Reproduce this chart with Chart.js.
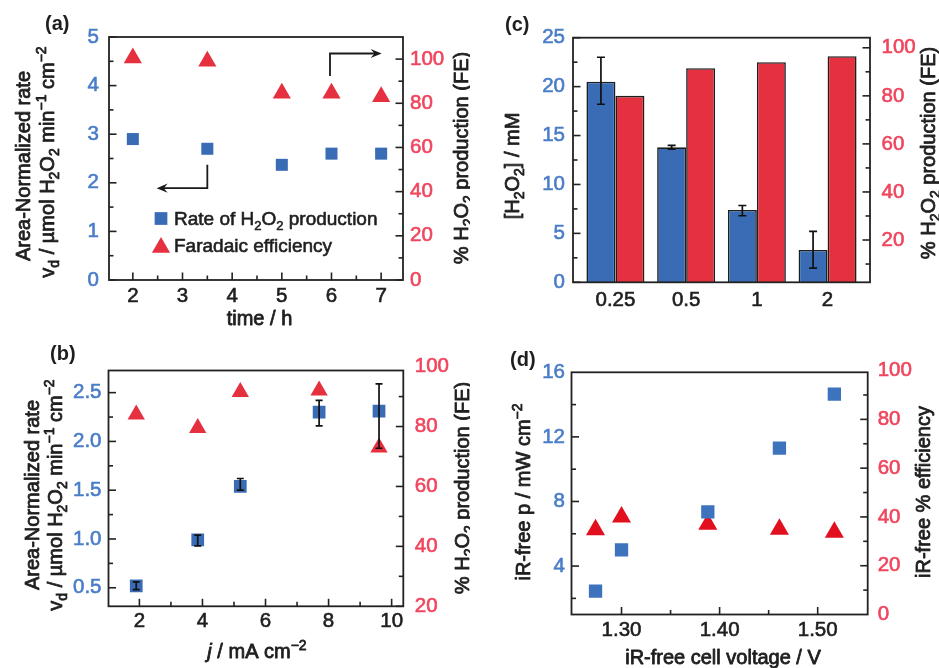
<!DOCTYPE html>
<html><head><meta charset="utf-8">
<script src="https://cdn.jsdelivr.net/npm/chart.js@4.4.0/dist/chart.umd.min.js"></script>
<style>
html,body{margin:0;padding:0;background:#fff;}
#wrap{position:relative;width:939px;height:668px;overflow:hidden;background:#fff;}
canvas{position:absolute;}
</style></head><body>
<div id="wrap">
<canvas id="ca" width="470" height="330" style="left:0;top:0"></canvas>
<canvas id="cc" width="469" height="330" style="left:470px;top:0"></canvas>
<canvas id="cb" width="470" height="338" style="left:0;top:330px"></canvas>
<canvas id="cd" width="469" height="338" style="left:470px;top:330px"></canvas>
</div>
<script>
// ---------- DATA ----------
// (a) rate and FE vs time
const timeH   = [2, 3.5, 5, 6, 7];
const rateA   = [2.9, 2.7, 2.37, 2.6, 2.6];
const feA     = [100.5, 99, 84.5, 84.5, 83];
const timeTicks  = [2, 3, 4, 5, 6, 7];
const rateTicksA = [0, 1, 2, 3, 4, 5];
const feTicksA   = [0, 20, 40, 60, 80, 100];
// (b) rate and FE vs current density
const currentJ  = [1.9, 3.85, 5.2, 7.7, 9.6];
const rateB     = [0.52, 0.99, 1.54, 2.30, 2.31];
const rateBLow  = [0.48, 0.93, 1.50, 2.16, 1.93];
const rateBHigh = [0.56, 1.04, 1.62, 2.42, 2.59];
const feB       = [84, 79.5, 91.5, 92, 73];
const jTicks     = [2, 4, 6, 8, 10];
const rateTicksB = [0.5, 1.0, 1.5, 2.0, 2.5];
const feTicksB   = [20, 40, 60, 80, 100];
// (c) concentration and FE per category
const catsC    = ['0.25', '0.5', '1', '2'];
const h2o2C    = [20.5, 13.8, 7.4, 3.3];
const h2o2Low  = [18.2, 13.6, 6.8, 1.45];
const h2o2High = [23.0, 14.0, 7.85, 5.2];
const feC      = [80, 91.5, 94, 96.5];
const concTicksC = [0, 5, 10, 15, 20, 25];
const feTicksC   = [20, 40, 60, 80, 100];
// (d) power and efficiency vs cell voltage
const voltD  = [1.2735, 1.30, 1.388, 1.461, 1.517];
const powerD = [2.45, 5.0, 7.35, 11.3, 14.65];
const effD   = [34.7, 40, 37, 35, 33.7];
const voltTicks  = [1.30, 1.40, 1.50];
const powerTicks = [4, 8, 12, 16];
const effTicks   = [0, 20, 40, 60, 80, 100];
// legend / titles
const legendA = ['Rate of H_{2}O_{2} production', 'Faradaic efficiency'];

// ---------- STYLE ----------
const FONT = "'Liberation Sans', Arial, Helvetica, sans-serif";
Chart.defaults.font.family = FONT;
Chart.defaults.font.size = 20;
Chart.defaults.color = '#222';
const BLUE_LBL = '#4a7dc8', RED_LBL = '#f0455d';
const BLUE = '#3a6cb5', RED = '#e5303f';
const BLUE_D = '#3d72bd', RED_D = '#e2101f';
const TXT = '#1e1e1e';

function richParts(str){
  const out=[]; const re=/([_^])\{([^}]*)\}|\*([^*]*)\*|([^_^*]+)/g; let m;
  while((m=re.exec(str))){
    if(m[1]) out.push({t:m[2], m:m[1]==='_'?'sub':'sup'});
    else if(m[3]!==undefined) out.push({t:m[3], m:'it'});
    else out.push({t:m[4], m:''});
  }
  return out;
}
function drawRich(ctx, str, x, y, o){
  o=o||{};
  const size=o.size||20, weight=o.weight||'normal';
  const parts=richParts(str);
  const fontFor=p=>(p.m==='it'?'italic ':'')+weight+' '+((p.m==='sub'||p.m==='sup')?Math.round(size*0.68):size)+'px '+FONT;
  ctx.save();
  ctx.translate(x,y); if(o.rot) ctx.rotate(o.rot);
  let w=0; parts.forEach(p=>{ctx.font=fontFor(p); p.w=ctx.measureText(p.t).width; w+=p.w;});
  let cx = o.align==='left'?0:(o.align==='right'?-w:-w/2);
  const col=o.color||TXT;
  ctx.fillStyle=col; ctx.strokeStyle=col; ctx.lineWidth=o.stroke===undefined?0.8:o.stroke; ctx.lineJoin='round';
  ctx.textBaseline='alphabetic'; ctx.textAlign='left';
  const base=size*0.36;
  parts.forEach(p=>{ctx.font=fontFor(p); const dy=p.m==='sub'?size*0.24:(p.m==='sup'?-size*0.4:0);
    if(ctx.lineWidth>0 && weight==='normal') ctx.strokeText(p.t,cx,base+dy);
    ctx.fillText(p.t,cx,base+dy); cx+=p.w;});
  ctx.restore();
}
function marker(ctx, style, x, y, r, color){
  ctx.fillStyle=color; ctx.beginPath();
  if(style==='rect'){ const s=r*Math.SQRT1_2; ctx.rect(x-s,y-s,2*s,2*s); }
  else { ctx.moveTo(x, y-r); ctx.lineTo(x+0.866*r, y+0.5*r); ctx.lineTo(x-0.866*r, y+0.5*r); ctx.closePath(); }
  ctx.fill();
}

function linAxis(o){
  const col=o.color||TXT;
  return {
    type:'linear', position:o.pos, min:o.min, max:o.max, offset:false,
    grid:{display:false, drawTicks:false}, border:{display:false},
    ticks:{color:col, textStrokeColor:col, textStrokeWidth:0.6, font:{size:20.5}, padding:o.pad, autoSkip:false, maxRotation:0, minRotation:0,
      callback: o.fmt || (v=>String(v))},
    afterBuildTicks: s => { s.ticks = o.ticks.map(v=>({value:v})); },
    afterFit: s => { if(o.pos==='bottom') s.height=o.size; else s.width=o.size; }
  };
}

function decor(cfg){
  return {
    id:'decor',
    afterDatasetsDraw(chart){
      const ctx=chart.ctx, a=chart.chartArea;
      ctx.save();
      (cfg.errors||[]).forEach(e=>{
        const meta=chart.getDatasetMeta(e.ds), ys=chart.scales[e.axis];
        ctx.strokeStyle='#111'; ctx.lineWidth=1.7;
        e.low.forEach((lo,i)=>{
          const x=meta.data[i].x, y1=ys.getPixelForValue(lo), y2=ys.getPixelForValue(e.high[i]);
          ctx.beginPath(); ctx.moveTo(x,y1); ctx.lineTo(x,y2);
          ctx.moveTo(x-e.cap,y1); ctx.lineTo(x+e.cap,y1);
          ctx.moveTo(x-e.cap,y2); ctx.lineTo(x+e.cap,y2); ctx.stroke();
        });
      });
      (cfg.arrows||[]).forEach(ar=>{
        const xs=chart.scales.x, ys=chart.scales.y;
        const p=ar.map(q=>[xs.getPixelForValue(q[0]), ys.getPixelForValue(q[1])]);
        ctx.strokeStyle='#1a1a1a'; ctx.lineWidth=1.8; ctx.beginPath();
        const n=p.length, L=11, W=4.6;
        const dx=p[n-1][0]-p[n-2][0], dy=p[n-1][1]-p[n-2][1], d=Math.hypot(dx,dy), ux=dx/d, uy=dy/d;
        ctx.moveTo(p[0][0],p[0][1]);
        for(let i=1;i<n-1;i++) ctx.lineTo(p[i][0],p[i][1]);
        ctx.lineTo(p[n-1][0]-ux*L*0.6, p[n-1][1]-uy*L*0.6); ctx.stroke();
        ctx.fillStyle='#1a1a1a'; ctx.beginPath();
        ctx.moveTo(p[n-1][0],p[n-1][1]);
        ctx.lineTo(p[n-1][0]-ux*L-uy*W, p[n-1][1]-uy*L+ux*W);
        ctx.lineTo(p[n-1][0]-ux*L*0.65, p[n-1][1]-uy*L*0.65);
        ctx.lineTo(p[n-1][0]-ux*L+uy*W, p[n-1][1]-uy*L-ux*W);
        ctx.closePath(); ctx.fill();
      });
      // frame
      ctx.strokeStyle='#222'; ctx.lineWidth=1.8;
      ctx.strokeRect(a.left,a.top,a.right-a.left,a.bottom-a.top);
      // tick marks
      ctx.lineWidth=1.6;
      (cfg.marks||[]).forEach(t=>{
        const sc=chart.scales[t.scale];
        const draw=(v,len)=>{
          const px=sc.getPixelForValue(v);
          ctx.beginPath();
          if(t.side==='bottom'){ ctx.moveTo(px,a.bottom); ctx.lineTo(px,a.bottom-len); }
          else if(t.side==='left'){ ctx.moveTo(a.left,px); ctx.lineTo(a.left+len,px); }
          else { ctx.moveTo(a.right,px); ctx.lineTo(a.right-len,px); }
          ctx.stroke();
        };
        t.major.forEach(v=>draw(v,7.5)); (t.minor||[]).forEach(v=>draw(v,4.5));
      });
      // legend
      if(cfg.legend){
        cfg.legend.items.forEach((it,i)=>{
          const y=cfg.legend.y+i*cfg.legend.gap;
          marker(ctx, it.style, cfg.legend.x, y + (it.style==='triangle'?2.5:0), it.r, it.color);
          drawRich(ctx, it.text, cfg.legend.x+13, y, {size:19, align:'left', stroke:0.6});
        });
      }
      (cfg.texts||[]).forEach(tx=>drawRich(ctx, tx.s, tx.x, tx.y, tx));
      ctx.restore();
    }
  };
}

const common = {responsive:false, animation:false, events:[],
  plugins:{legend:{display:false}, tooltip:{enabled:false}}};
const ROT = -Math.PI/2;

// ---------- (a) ----------
new Chart(document.getElementById('ca'), {
  type:'scatter',
  data:{datasets:[
    {data:timeH.map((x,i)=>({x, y:rateA[i]})), yAxisID:'y', pointStyle:'rect', pointRadius:8.5, backgroundColor:BLUE, borderWidth:0},
    {data:timeH.map((x,i)=>({x, y:feA[i]})), yAxisID:'y1', pointStyle:'triangle', pointRadius:10.5, backgroundColor:RED, borderWidth:0}
  ]},
  options:Object.assign({}, common, {
    layout:{padding:{top:37, left:0, right:0, bottom:0}},
    scales:{
      x: linAxis({pos:'bottom', min:1.52, max:7.44, ticks:timeTicks, pad:4, size:50}),
      y: linAxis({pos:'left', min:0, max:5, ticks:rateTicksA, pad:10, size:109, color:BLUE_LBL}),
      y1: linAxis({pos:'right', min:0, max:110, ticks:feTicksA, pad:7, size:67, color:RED_LBL})
    }
  }),
  plugins:[decor({
    arrows:[[[3.5,2.37],[3.5,1.89],[2.48,1.89]], [[5.97,4.2],[5.97,4.66],[7.01,4.66]]],
    marks:[
      {scale:'x', side:'bottom', major:timeTicks, minor:[2.5,3.5,4.5,5.5,6.5]},
      {scale:'y', side:'left', major:rateTicksA, minor:[0.5,1.5,2.5,3.5,4.5]},
      {scale:'y1', side:'right', major:feTicksA, minor:[10,30,50,70,90]}
    ],
    legend:{x:161, y:218.5, gap:26.5, items:[
      {style:'rect', r:9, color:BLUE, text:legendA[0]},
      {style:'triangle', r:10.5, color:RED, text:legendA[1]}
    ]},
    texts:[
      {s:'(a)', x:45, y:23, size:20, weight:'bold', align:'left'},
      {s:'Area-Normalized rate', x:22.5, y:166, rot:ROT},
      {s:'v_{d} / µmol H_{2}O_{2} min^{−1} cm^{−2}', x:47, y:162, rot:ROT},
      {s:'% H_{2}O_{2} production (FE)', x:461, y:158, rot:ROT},
      {s:'time / h', x:259.5, y:317.5}
    ]
  })]
});

// ---------- (c) ----------
new Chart(document.getElementById('cc'), {
  type:'bar',
  data:{datasets:[
    {data:h2o2C.map((v,i)=>({x:i, y:v})), yAxisID:'y', backgroundColor:BLUE, borderColor:'#1e1e1e', borderWidth:1.6, categoryPercentage:0.82, barPercentage:1.0},
    {data:feC.map((v,i)=>({x:i, y:v})), yAxisID:'y1', backgroundColor:RED, borderColor:'#1e1e1e', borderWidth:1.6, categoryPercentage:0.82, barPercentage:1.0}
  ]},
  options:Object.assign({}, common, {
    layout:{padding:{top:37.7, left:0, right:0, bottom:0}},
    scales:{
      x: linAxis({pos:'bottom', min:-0.6, max:3.6, ticks:[0,1,2,3], pad:6, size:47.7, fmt:(v)=>catsC[v]}),
      y: linAxis({pos:'left', min:0, max:25, ticks:concTicksC, pad:8, size:103, color:BLUE_LBL}),
      y1: linAxis({pos:'right', min:2.4, max:104.2, ticks:feTicksC, pad:11.5, size:69, color:RED_LBL})
    }
  }),
  plugins:[decor({
    errors:[{ds:0, axis:'y', low:h2o2Low, high:h2o2High, cap:4}],
    marks:[
      {scale:'y', side:'left', major:concTicksC, minor:[2.5,7.5,12.5,17.5,22.5]},
      {scale:'y1', side:'right', major:feTicksC, minor:[10,30,50,70,90]}
    ],
    texts:[
      {s:'(c)', x:35, y:24, size:20, weight:'bold', align:'left'},
      {s:'[H_{2}O_{2}] / mM', x:42, y:166, rot:ROT},
      {s:'% H_{2}O_{2} production (FE)', x:458, y:153, rot:ROT}
    ]
  })]
});

// ---------- (b) ----------
new Chart(document.getElementById('cb'), {
  type:'scatter',
  data:{datasets:[
    {data:currentJ.map((x,i)=>({x, y:rateB[i]})), yAxisID:'y', pointStyle:'rect', pointRadius:9, backgroundColor:BLUE, borderWidth:0},
    {data:currentJ.map((x,i)=>({x, y:feB[i]})), yAxisID:'y1', pointStyle:'triangle', pointRadius:10, backgroundColor:RED, borderWidth:0}
  ]},
  options:Object.assign({}, common, {
    layout:{padding:{top:40.5, left:0, right:0, bottom:0}},
    scales:{
      x: linAxis({pos:'bottom', min:1.02, max:10.37, ticks:jTicks, pad:2.5, size:61.7}),
      y: linAxis({pos:'left', min:0.31, max:2.727, ticks:rateTicksB, pad:7, size:108.5, color:BLUE_LBL, fmt:v=>v.toFixed(1)}),
      y1: linAxis({pos:'right', min:20, max:98.7, ticks:feTicksB, pad:11.5, size:66.7, color:RED_LBL})
    }
  }),
  plugins:[decor({
    errors:[{ds:0, axis:'y', low:rateBLow, high:rateBHigh, cap:3.5}],
    marks:[
      {scale:'x', side:'bottom', major:jTicks, minor:[3,5,7,9]},
      {scale:'y', side:'left', major:rateTicksB, minor:[0.75,1.25,1.75,2.25]},
      {scale:'y1', side:'right', major:[20,40,60,80], minor:[30,50,70,90]}
    ],
    texts:[
      {s:'(b)', x:50, y:23, size:20, weight:'bold', align:'left'},
      {s:'Area-Normalized rate', x:31.5, y:165, rot:ROT},
      {s:'v_{d} / µmol H_{2}O_{2} min^{−1} cm^{−2}', x:55, y:165, rot:ROT},
      {s:'% H_{2}O_{2} production (FE)', x:461.5, y:158, rot:ROT},
      {s:'*j* / mA cm^{−2}', x:257, y:321}
    ]
  })]
});

// ---------- (d) ----------
new Chart(document.getElementById('cd'), {
  type:'scatter',
  data:{datasets:[
    {data:voltD.map((x,i)=>({x, y:powerD[i]})), yAxisID:'y', pointStyle:'rect', pointRadius:9.4, backgroundColor:BLUE_D, borderWidth:0},
    {data:voltD.map((x,i)=>({x, y:effD[i]})), yAxisID:'y1', pointStyle:'triangle', pointRadius:11, backgroundColor:RED_D, borderWidth:0}
  ]},
  options:Object.assign({}, common, {
    layout:{padding:{top:42.3, left:0, right:0, bottom:0}},
    scales:{
      x: linAxis({pos:'bottom', min:1.249, max:1.551, ticks:voltTicks, pad:3.5, size:53.5, fmt:v=>v.toFixed(2)}),
      y: linAxis({pos:'left', min:1.0, max:16, ticks:powerTicks, pad:6.5, size:101.5, color:BLUE_LBL}),
      y1: linAxis({pos:'right', min:0, max:99.3, ticks:effTicks, pad:10, size:71.3, color:RED_LBL})
    }
  }),
  plugins:[decor({
    marks:[
      {scale:'x', side:'bottom', major:voltTicks, minor:[1.35,1.45]},
      {scale:'y', side:'left', major:[4,8,12], minor:[2,6,10,14]},
      {scale:'y1', side:'right', major:[20,40,60,80], minor:[10,30,50,70,90]}
    ],
    texts:[
      {s:'(d)', x:40, y:29, size:20, weight:'bold', align:'left'},
      {s:'iR-free p / mW cm^{−2}', x:53, y:162, rot:ROT},
      {s:'iR-free % efficiency', x:453, y:162, rot:ROT},
      {s:'iR-free cell voltage / V', x:253, y:327}
    ]
  })]
});
</script>
</body></html>
